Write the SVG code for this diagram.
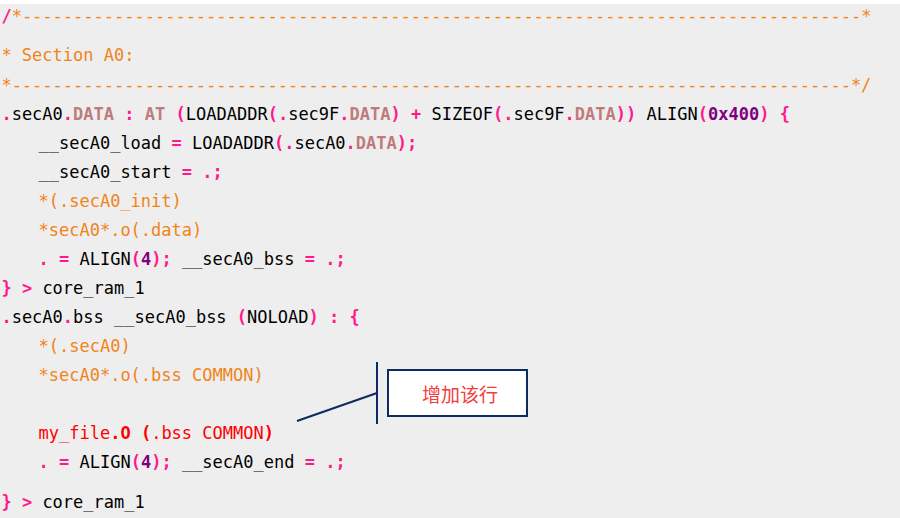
<svg xmlns="http://www.w3.org/2000/svg" width="900" height="518" viewBox="0 0 900 518">
<style>
.c{font-family:"DejaVu Sans Mono","Liberation Mono",monospace;font-size:17px;fill:#000;white-space:pre}
.k{fill:#FF1A8C;font-weight:bold}
.r{fill:#BF7B7B;font-weight:bold}
.n{fill:#800080;font-weight:bold}
.m{fill:#F08419}
.e{fill:#FF0000}
.eb{fill:#FF0000;font-weight:bold}
.ln{stroke:#0E2A63;stroke-width:2;fill:none}
</style>
<rect x="0" y="0" width="900" height="518" fill="#FFFFFF"/>
<rect x="0" y="4" width="900" height="514" fill="#EEEEEE"/>
<g id="code" class="c" xml:space="preserve">
<text x="1.4" y="21.5"><tspan class="k">/</tspan><tspan class="m">*----------------------------------------------------------------------------------*</tspan></text>
<text x="1.4" y="61"><tspan class="m">* Section A0:</tspan></text>
<text x="1.4" y="90.5"><tspan class="m">*----------------------------------------------------------------------------------*/</tspan></text>
<text x="1.4" y="119.5"><tspan class="k">.</tspan>secA0<tspan class="k">.</tspan><tspan class="r">DATA</tspan> <tspan class="k">:</tspan> <tspan class="r">AT</tspan> <tspan class="k">(</tspan>LOADADDR<tspan class="k">(.</tspan>sec9F<tspan class="k">.</tspan><tspan class="r">DATA</tspan><tspan class="k">)</tspan> <tspan class="k">+</tspan> SIZEOF<tspan class="k">(.</tspan>sec9F<tspan class="k">.</tspan><tspan class="r">DATA</tspan><tspan class="k">))</tspan> ALIGN<tspan class="k">(</tspan><tspan class="n">0x400</tspan><tspan class="k">)</tspan> <tspan class="k">{</tspan></text>
<text x="38.5" y="148.5">__secA0_load <tspan class="k">=</tspan> LOADADDR<tspan class="k">(.</tspan>secA0<tspan class="k">.</tspan><tspan class="r">DATA</tspan><tspan class="k">);</tspan></text>
<text x="38.5" y="177.5">__secA0_start <tspan class="k">=</tspan> <tspan class="k">.;</tspan></text>
<text x="38.5" y="206.5"><tspan class="m">*(.secA0_init)</tspan></text>
<text x="38.5" y="235.5"><tspan class="m">*secA0*.o(.data)</tspan></text>
<text x="38.5" y="264.5"><tspan class="k">.</tspan> <tspan class="k">=</tspan> ALIGN<tspan class="k">(</tspan><tspan class="n">4</tspan><tspan class="k">);</tspan> __secA0_bss <tspan class="k">=</tspan> <tspan class="k">.;</tspan></text>
<text x="1.4" y="293.5"><tspan class="k">}</tspan> <tspan class="k">&gt;</tspan> core_ram_1</text>
<text x="1.4" y="322.5"><tspan class="k">.</tspan>secA0<tspan class="k">.</tspan>bss __secA0_bss <tspan class="k">(</tspan>NOLOAD<tspan class="k">)</tspan> <tspan class="k">:</tspan> <tspan class="k">{</tspan></text>
<text x="38.5" y="351.5"><tspan class="m">*(.secA0)</tspan></text>
<text x="38.5" y="380.5"><tspan class="m">*secA0*.o(.bss COMMON)</tspan></text>
<text x="38.5" y="438.5"><tspan class="e">my_file</tspan><tspan class="eb">.O</tspan> <tspan class="eb">(</tspan><tspan class="e">.bss COMMON</tspan><tspan class="eb">)</tspan></text>
<text x="38.5" y="467.5"><tspan class="k">.</tspan> <tspan class="k">=</tspan> ALIGN<tspan class="k">(</tspan><tspan class="n">4</tspan><tspan class="k">);</tspan> __secA0_end <tspan class="k">=</tspan> <tspan class="k">.;</tspan></text>
<text x="1.4" y="508"><tspan class="k">}</tspan> <tspan class="k">&gt;</tspan> core_ram_1</text>
</g>
<g id="connectors">
<line class="ln" x1="297" y1="421" x2="377" y2="393"/>
</g>
<g id="callout">
<line class="ln" x1="377" y1="362" x2="377" y2="424"/>
<rect class="ln" x="388" y="370" width="139" height="46" fill="#FFFFFF" style="fill:#FFFFFF"/>
<text x="460" y="402" text-anchor="middle" style="font-family:'Noto Sans CJK SC','Noto Sans',sans-serif;font-size:19px;fill:#F43C3C">增加该行</text>
</g>
</svg>
